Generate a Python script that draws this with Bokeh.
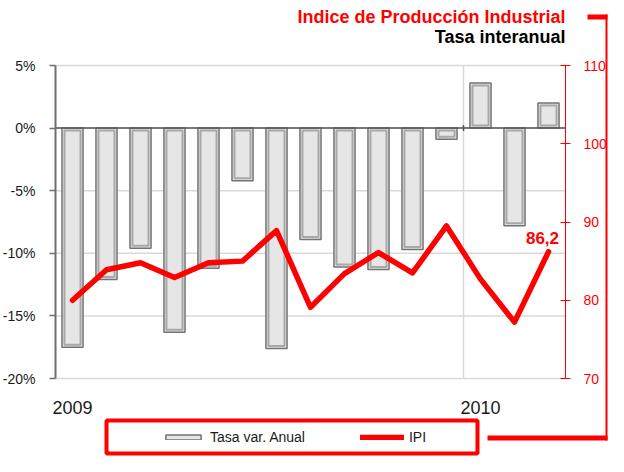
from bokeh.plotting import figure
from bokeh.models import (Range1d, LinearAxis, FixedTicker, PrintfTickFormatter,
                          Label, Legend, LegendItem, BoxAnnotation, ColumnDataSource)
from bokeh.embed import file_html
from bokeh.resources import INLINE

# ---- data ----
periodos = ["2009-01", "2009-02", "2009-03", "2009-04", "2009-05", "2009-06",
            "2009-07", "2009-08", "2009-09", "2009-10", "2009-11", "2009-12",
            "2010-01", "2010-02", "2010-03"]
tasa_var_anual = [-17.5, -12.1, -9.6, -16.3, -11.2, -4.2, -17.6, -8.9,
                  -11.1, -11.3, -9.7, -0.9, 3.6, -7.8, 2.0]
ipi = [80.0, 83.9, 84.8, 82.9, 84.8, 85.0, 88.9, 79.1,
       83.4, 86.1, 83.5, 89.5, 82.7, 77.2, 86.2]
anios = ["2009", "2010"]
anio_inicio = [0, 12]          # index of the first month of each year
ticks_tasa = [-20, -15, -10, -5, 0, 5]
ticks_ipi = [70, 80, 90, 100, 110]

FONT = "Liberation Sans"
RED = "#ff0000"
W, H = 608, 456
# plot region in canvas pixels (the frame covers the whole canvas)
PL, PR, PT, PB = 55, 565, 65, 378

n = len(periodos)
ppx = (PR - PL) / n
ppy = (PB - PT) / (ticks_tasa[-1] - ticks_tasa[0])
ppi = (PB - PT) / (ticks_ipi[-1] - ticks_ipi[0])

x = [i + 0.5 for i in range(n)]
src = ColumnDataSource(dict(x=x, periodo=periodos, tasa=tasa_var_anual, ipi=ipi))

p = figure(width=W, height=H, output_backend="svg", toolbar_location=None, title=None,
           x_range=Range1d(-PL / ppx, n + (W - PR) / ppx),
           y_range=Range1d(ticks_tasa[0] - (H - PB) / ppy, ticks_tasa[-1] + PT / ppy),
           min_border=0)
p.outline_line_color = None
p.background_fill_color = "white"
p.border_fill_color = "white"
p.extra_y_ranges = {"ipi": Range1d(ticks_ipi[0] - (H - PB) / ppi, ticks_ipi[-1] + PT / ppi)}
p.grid.visible = False

# grid lines (horizontal at the % ticks, vertical at the year boundary)
p.segment(x0=0, x1=n, y0=ticks_tasa, y1=ticks_tasa, line_color="#d9d9d9", line_width=1.5)
p.segment(x0=anio_inicio[1], x1=anio_inicio[1], y0=ticks_tasa[0], y1=ticks_tasa[-1],
          line_color="#d9d9d9", line_width=1.5)

# x axis: year labels
xa = p.xaxis[0]
xa.fixed_location = ticks_tasa[0]
xa.ticker = FixedTicker(ticks=[i + 0.5 for i in anio_inicio])
xa.major_label_overrides = {i + 0.5: a for i, a in zip(anio_inicio, anios)}
xa.axis_line_color = None
xa.major_tick_line_color = None
xa.minor_tick_line_color = None
xa.major_tick_out = 0
xa.major_label_standoff = 22
xa.major_label_text_font = FONT
xa.major_label_text_font_size = "18px"
xa.major_label_text_color = "#1a1a1a"

# left axis
ya = p.yaxis[0]
ya.fixed_location = 0
ya.bounds = (ticks_tasa[0], ticks_tasa[-1])
ya.ticker = FixedTicker(ticks=ticks_tasa)
ya.formatter = PrintfTickFormatter(format="%d%%")
ya.axis_line_color = "#6e6e6e"
ya.axis_line_width = 2
ya.major_tick_line_color = "#6e6e6e"
ya.major_tick_line_width = 1.5
ya.major_tick_out = 6
ya.major_tick_in = 0
ya.minor_tick_line_color = None
ya.major_label_standoff = 14
ya.major_label_text_font = FONT
ya.major_label_text_font_size = "14px"
ya.major_label_text_color = "#1a1a1a"

# right axis
ra = LinearAxis(y_range_name="ipi", ticker=FixedTicker(ticks=ticks_ipi),
                fixed_location=n, bounds=(ticks_ipi[0], ticks_ipi[-1]))
ra.axis_line_color = RED
ra.axis_line_width = 1
ra.major_tick_line_color = RED
ra.major_tick_out = 5
ra.major_tick_in = 5
ra.minor_tick_line_color = None
ra.major_label_standoff = 13
ra.major_label_text_font = FONT
ra.major_label_text_font_size = "14px"
ra.major_label_text_color = RED
p.add_layout(ra, "right")

# bars (outer dark edge + inner light bevel)
bars = p.vbar(x="x", top="tasa", bottom=0, width=0.62, source=src,
              fill_color="#e6e6e6", line_color="#737373", line_width=1.5)
inset = 2.5
bev_top = [v - inset / ppy if v > 0 else -inset / ppy for v in tasa_var_anual]
bev_bot = [inset / ppy if v > 0 else v + inset / ppy for v in tasa_var_anual]
p.vbar(x=x, top=bev_top, bottom=bev_bot, width=0.62 - 2 * inset / ppx,
       fill_color=None, line_color="#a8a8a8", line_width=2)

# zero line
p.segment(x0=0, x1=n, y0=0, y1=0, line_color="#555555", line_width=1.5)
p.segment(x0=anio_inicio[1], x1=anio_inicio[1], y0=-3 / ppy, y1=3 / ppy,
          line_color="#555555", line_width=1.5)

# IPI line
line = p.line(x="x", y="ipi", y_range_name="ipi", source=src, line_color=RED,
              line_width=5.5, line_join="round", line_cap="round")

# last value label
p.add_layout(Label(x=x[-1], y=ipi[-1], y_range_name="ipi",
                   text=f"{ipi[-1]:.1f}".replace(".", ","),
                   text_align="center", text_baseline="middle", x_offset=-6, y_offset=14,
                   text_font=FONT, text_font_style="bold", text_font_size="17px",
                   text_color=RED))

# titles (screen units: measured from the frame's bottom-left)
p.add_layout(Label(x=PR, y=H - 16.5, x_units="screen", y_units="screen",
                   text="Indice de Producción Industrial", text_align="right",
                   text_baseline="middle", text_font=FONT, text_font_style="bold",
                   text_font_size="18px", text_color=RED))
p.add_layout(Label(x=PR, y=H - 36.5, x_units="screen", y_units="screen",
                   text="Tasa interanual", text_align="right",
                   text_baseline="middle", text_font=FONT, text_font_style="bold",
                   text_font_size="18px", text_color="#000000"))

# legend
legend = Legend(items=[LegendItem(label="Tasa var. Anual", renderers=[bars]),
                       LegendItem(label="IPI", renderers=[line])],
                orientation="horizontal", location=(161, 11), margin=0, padding=0,
                spacing=55, glyph_width=44, glyph_height=6, label_standoff=5,
                label_height=16, border_line_color=None, background_fill_alpha=0,
                label_text_font=FONT, label_text_font_size="14px",
                label_text_color="#1a1a1a")
p.add_layout(legend)

# red frame decorations (top-down pixel boxes converted to screen units)
def box(l, r, t, b, fill=True, lw=4):
    return BoxAnnotation(left=l, right=r, top=H - t, bottom=H - b,
                         left_units="screen", right_units="screen",
                         top_units="screen", bottom_units="screen",
                         fill_color=RED if fill else None, fill_alpha=1 if fill else 0,
                         line_color=None if fill else RED, line_width=lw, line_alpha=1)

p.add_layout(box(106, 477, 420, 453, fill=False, lw=4))
p.add_layout(box(587, 607, 14, 19))
p.add_layout(box(605, 607, 14, 440))
p.add_layout(box(487, 607, 435, 440))

open("out.html", "w").write(file_html(p, INLINE))
